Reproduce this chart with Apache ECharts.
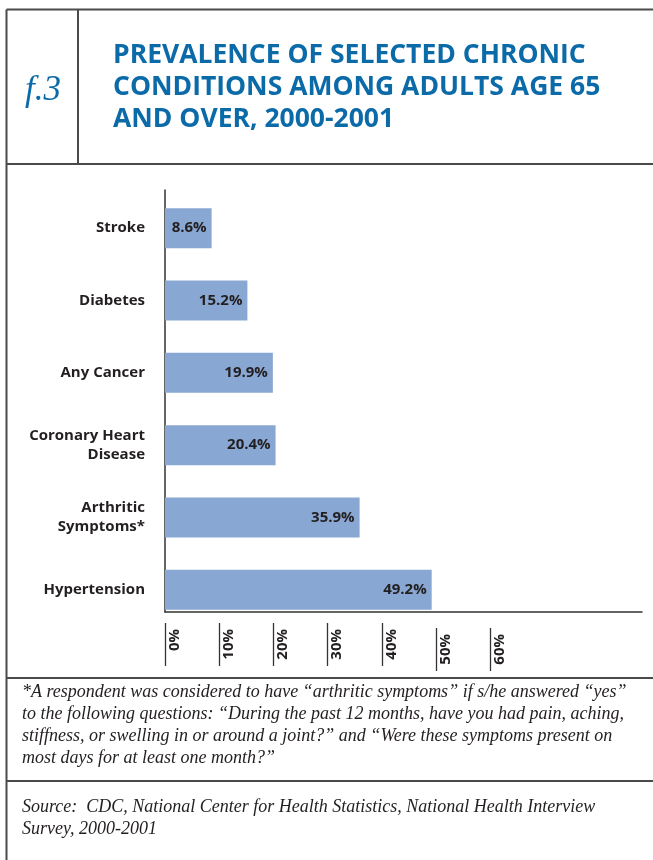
<!DOCTYPE html>
<html>
<head>
<meta charset="utf-8">
<script src="https://cdn.jsdelivr.net/npm/echarts@6/dist/echarts.min.js"></script>
<style>
html,body{margin:0;padding:0;background:#fff;}
#chart{width:653px;height:860px;}
</style>
</head>
<body>
<div id="chart"></div>
<script>
const categories = ['Stroke', 'Diabetes', 'Any Cancer', 'Coronary Heart\nDisease', 'Arthritic\nSymptoms*', 'Hypertension'];
const values = [8.6, 15.2, 19.9, 20.4, 35.9, 49.2];
const tickValuesA = [0, 10, 20, 30, 40];
const tickValuesB = [50, 60];
const titleText = 'PREVALENCE OF SELECTED CHRONIC\nCONDITIONS AMONG ADULTS AGE 65\nAND OVER, 2000-2001';
const figureLabel = 'f.3';
const footnoteLines = [
  '*A respondent was considered to have \u201carthritic symptoms\u201d if s/he answered \u201cyes\u201d',
  'to the following questions: \u201cDuring the past 12 months, have you had pain, aching,',
  'stiffness, or swelling in or around a joint?\u201d and \u201cWere these symptoms present on',
  'most days for at least one month?\u201d'
];
const sourceLines = [
  'Source:  CDC, National Center for Health Statistics, National Health Interview',
  'Survey, 2000-2001'
];

const chart = echarts.init(document.getElementById('chart'), null, {renderer: 'canvas'});
const borderColor = '#4a4a4a';
const axisColor = '#333';
const sans = '"Open Sans", "DejaVu Sans", sans-serif';
const serif = '"Liberation Serif", "DejaVu Serif", serif';
const XMAX = 88;

function labelAxis(vals, offset) {
  return {
    type: 'value', gridIndex: 1, min: 0, max: XMAX, position: 'bottom', offset: offset,
    axisLine: {show: false}, splitLine: {show: false},
    axisTick: {show: true, customValues: vals, length: 43, lineStyle: {color: axisColor, width: 1.3}},
    axisLabel: {
      show: true, customValues: vals, rotate: 90, margin: 6,
      verticalAlign: 'top', padding: [2, 0, 0, 0],
      formatter: v => v + '%',
      fontFamily: sans, fontWeight: 'bold', fontSize: 15, color: '#231f20'
    }
  };
}

chart.setOption({
  animation: false,
  backgroundColor: '#fff',
  title: [
    {text: titleText, left: 108, top: 34,
     textStyle: {fontFamily: sans, fontWeight: 'bold', fontSize: 26.5, lineHeight: 32, color: '#0b6aa8'}},
    {text: figureLabel, left: 20, top: 68,
     textStyle: {fontFamily: serif, fontStyle: 'italic', fontWeight: 'normal', fontSize: 35, color: '#0b6aa8'}}
  ],
  grid: [
    {left: 165, right: 11, top: 192, height: 434},
    {left: 165, right: 11, top: 190, bottom: 248}
  ],
  xAxis: [
    {type: 'value', gridIndex: 0, min: 0, max: XMAX, show: false},
    {type: 'value', gridIndex: 1, min: 0, max: XMAX, position: 'bottom',
     axisLine: {show: true, lineStyle: {color: axisColor, width: 1.5}},
     axisTick: {show: false}, axisLabel: {show: false}, splitLine: {show: false}},
    labelAxis(tickValuesA, 11),
    labelAxis(tickValuesB, 16)
  ],
  yAxis: [
    {type: 'category', gridIndex: 0, data: categories, inverse: true,
     axisLine: {show: false}, axisTick: {show: false},
     axisLabel: {margin: 20, fontFamily: sans, fontWeight: 'bold', fontSize: 15, lineHeight: 19, color: '#231f20', align: 'right'}},
    {type: 'value', gridIndex: 1, min: 0, max: 1, position: 'left',
     axisLine: {show: true, lineStyle: {color: axisColor, width: 1.5}},
     axisTick: {show: false}, axisLabel: {show: false}, splitLine: {show: false}}
  ],
  series: [{
    type: 'bar', xAxisIndex: 0, yAxisIndex: 0, data: values, barWidth: 40,
    itemStyle: {color: '#88a7d2'},
    label: {show: true, position: 'insideRight', distance: 5,
      formatter: p => p.value.toFixed(1) + '%',
      fontFamily: sans, fontWeight: 'bold', fontSize: 15, color: '#231f20'}
  }],
  graphic: [
    {type: 'line', shape: {x1: 6.5, y1: 9.5, x2: 653, y2: 9.5}, style: {stroke: borderColor, lineWidth: 2}},
    {type: 'line', shape: {x1: 6.5, y1: 9.5, x2: 6.5, y2: 860}, style: {stroke: borderColor, lineWidth: 2}},
    {type: 'line', shape: {x1: 78, y1: 9.5, x2: 78, y2: 164}, style: {stroke: borderColor, lineWidth: 2}},
    {type: 'line', shape: {x1: 6.5, y1: 164, x2: 653, y2: 164}, style: {stroke: borderColor, lineWidth: 2}},
    {type: 'line', shape: {x1: 6.5, y1: 678, x2: 653, y2: 678}, style: {stroke: borderColor, lineWidth: 2}},
    {type: 'line', shape: {x1: 6.5, y1: 781, x2: 653, y2: 781}, style: {stroke: borderColor, lineWidth: 2}},
    {type: 'text', left: 22, top: 681,
     style: {text: footnoteLines.join('\n'), font: 'italic 18px ' + serif, lineHeight: 22, fill: '#231f20'}},
    {type: 'text', left: 22, top: 796,
     style: {text: sourceLines.join('\n'), font: 'italic 18px ' + serif, lineHeight: 22, fill: '#231f20'}}
  ]
});
</script>
</body>
</html>
